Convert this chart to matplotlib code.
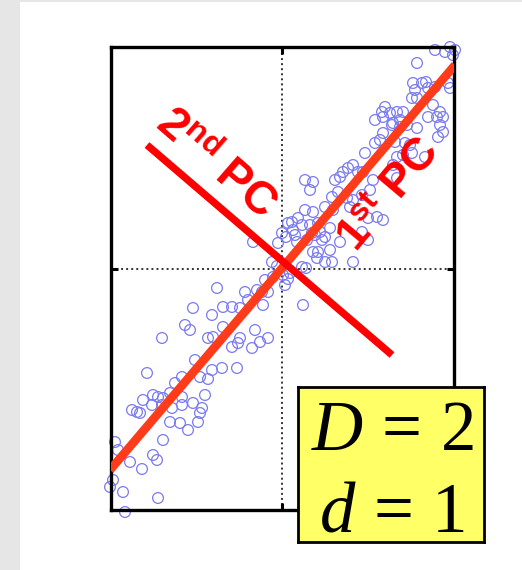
import numpy as np
import matplotlib
matplotlib.use("Agg")
import matplotlib.pyplot as plt
from matplotlib.patches import Rectangle

# fonts: sans bold for the PC labels, Times-like serif for the D/d box
plt.rcParams['mathtext.fontset'] = 'custom'
plt.rcParams['mathtext.rm'] = 'Liberation Serif'
plt.rcParams['mathtext.it'] = 'Liberation Serif:italic'
plt.rcParams['mathtext.bf'] = 'Liberation Sans:bold'

# 2-D sample cloud (x, y)
lower_pts = [(-1.57, -2.43), (-1.24, -2.29), (-1.59, -2.23), (-1.72, -2.18), (-1.69, -2.11),
             (-1.40, -2.00), (-1.52, -1.93), (-1.25, -1.91), (-1.29, -1.86), (-1.64, -1.81),
             (-1.67, -1.73), (-1.19, -1.71), (-0.94, -1.61), (-1.12, -1.53), (-1.02, -1.54),
             (-0.84, -1.53), (-0.82, -1.44), (-1.10, -1.39), (-1.20, -1.36), (-1.30, -1.36),
             (-1.00, -1.36), (-0.89, -1.34), (-0.80, -1.39), (-1.50, -1.41), (-1.45, -1.43),
             (-1.42, -1.44), (-1.39, -1.31), (-1.29, -1.26), (-1.24, -1.28), (-1.19, -1.29),
             (-1.12, -1.24), (-1.00, -1.28), (-0.77, -1.26), (-1.35, -1.04), (-1.07, -1.14),
             (-1.00, -1.08), (-0.82, -1.08), (-0.74, -1.10), (-0.70, -1.01), (-0.60, -0.99),
             (-0.45, -0.99), (-0.87, -0.91), (-0.50, -0.78), (-0.30, -0.79), (-0.42, -0.69),
             (-0.44, -0.74), (-0.27, -0.61), (-0.22, -0.73), (-0.14, -0.69), (-0.59, -0.58),
             (-0.74, -0.69), (-0.69, -0.68), (-0.97, -0.56), (-0.92, -0.61), (-1.20, -0.69),
             (-0.89, -0.39), (-0.70, -0.46), (-0.59, -0.38), (-0.50, -0.38), (-0.42, -0.39),
             (-0.65, -0.19), (-0.37, -0.23), (-0.25, -0.21), (-0.14, -0.23), (-0.34, -0.31),
             (-0.19, -0.36)]

middle_pts = [(0.10, 0.47), (0.16, 0.51), (0.20, 0.44), (0.00, 0.36), (0.04, 0.32),
              (0.11, 0.39), (-0.29, 0.27), (-0.04, 0.26), (0.15, 0.27), (0.25, 0.29),
              (0.30, 0.36), (0.38, 0.37), (0.40, 0.29), (0.48, 0.19), (0.36, 0.17),
              (0.31, 0.17), (0.71, 0.07), (0.35, 0.11), (0.43, 0.07), (0.50, 0.07),
              (-0.10, 0.07), (-0.05, 0.03), (0.20, 0.02), (0.24, 0.01), (-0.17, -0.11),
              (-0.09, -0.08), (0.01, -0.06), (0.06, -0.10), (-0.20, -0.23), (0.21, -0.36),
              (0.08, -0.04), (0.03, -0.16), (0.86, 0.29), (0.58, 0.27), (0.13, 0.34),
              (0.06, 0.46)]

upper_pts = [(0.93, 1.49), (1.01, 1.52), (1.08, 1.56), (1.15, 1.57), (1.10, 1.44),
             (1.18, 1.42), (1.25, 1.44), (1.35, 1.41), (0.83, 1.16), (0.93, 1.26),
             (0.98, 1.29), (1.13, 1.27), (1.23, 1.26), (1.28, 1.24), (1.15, 1.12),
             (1.21, 1.14), (1.30, 1.16), (0.61, 0.97), (0.66, 1.01), (0.71, 1.04),
             (0.76, 0.97), (0.81, 0.97), (1.11, 1.04), (0.53, 0.89), (0.58, 0.92),
             (0.91, 0.89), (1.15, 0.91), (0.23, 0.89), (0.31, 0.87), (0.28, 0.79),
             (0.56, 0.77), (0.50, 0.72), (0.65, 0.71), (0.71, 0.69), (0.80, 0.74),
             (0.88, 0.79), (0.43, 0.62), (0.51, 0.59), (0.68, 0.62), (0.23, 0.59),
             (0.31, 0.57), (0.95, 0.52), (0.86, 0.51), (1.01, 0.49), (0.28, 0.44),
             (0.36, 0.46), (0.48, 0.41), (0.33, 0.34), (0.43, 0.32), (0.80, 0.37),
             (1.43, 1.12)]

corner_pts = [(1.53, 2.19), (1.63, 2.17), (1.68, 2.22), (1.71, 2.14), (1.73, 2.19),
              (1.35, 2.06), (1.31, 1.86), (1.40, 1.86), (1.44, 1.87), (1.33, 1.79),
              (1.46, 1.81), (1.53, 1.82), (1.66, 1.86), (1.68, 1.81), (1.30, 1.71),
              (1.35, 1.71), (1.03, 1.62), (1.00, 1.57), (1.21, 1.57), (1.51, 1.64),
              (1.58, 1.57), (1.46, 1.52), (1.55, 1.52), (1.61, 1.52), (1.11, 1.46),
              (1.18, 1.49), (1.58, 1.44), (1.61, 1.37), (1.01, 1.36), (1.56, 1.32)]

# principal component directions (segment end points)
pc1_x = [-1.72, 1.73]
pc1_y = [-2.01, 2.04]
pc2_x = [-1.35, 1.10]
pc2_y = [1.24, -0.86]

pts = np.array(lower_pts + middle_pts + upper_pts + corner_pts)

fig = plt.figure(figsize=(5.22, 5.70), dpi=100)
fig.patch.set_facecolor('#e6e6e6')
fig.patches.append(Rectangle((20 / 522, 0), 1, 1 - 2 / 570, transform=fig.transFigure,
                             facecolor='white', edgecolor='none', zorder=-10))

ax = fig.add_axes([111 / 522, 1 - 510 / 570, 343 / 522, 463 / 570])
ax.set_xlim(-1.71, 1.72)
ax.set_ylim(-2.41, 2.22)

ax.scatter(pts[:, 0], pts[:, 1], s=60, facecolors='none', edgecolors='#7a7af2',
           linewidths=0.9, clip_on=False, zorder=2)

ax.plot(pc1_x, pc1_y, color='#ff3b1a', linewidth=6.2, solid_capstyle='butt', zorder=3)
ax.plot(pc2_x, pc2_y, color='#ff0000', linewidth=5.3, solid_capstyle='butt', zorder=4)

ax.text(-0.67, 1.05, r'2$^{\mathbf{nd}}$ PC', color='red', fontsize=33,
        fontfamily='Liberation Sans', fontweight='bold', rotation=-41,
        rotation_mode='anchor', ha='center', va='center', zorder=5)
ax.text(1.08, 0.74, r'1$^{\mathbf{st}}$ PC', color='red', fontsize=33,
        fontfamily='Liberation Sans', fontweight='bold', rotation=50,
        rotation_mode='anchor', ha='center', va='center', zorder=5)

# only the centre tick, with dotted cross lines
ax.set_xticks([0])
ax.set_yticks([0])
ax.set_xticklabels([])
ax.set_yticklabels([])
ax.tick_params(direction='in', length=5, width=2.2, top=True, right=True)
ax.grid(True, linestyle=(0, (1, 1.6)), color='#333333', linewidth=1.4)
for s in ax.spines.values():
    s.set_linewidth(2.4)

# dimension box
box = fig.add_axes([298 / 522, 1 - 542 / 570, 186 / 522, 155 / 570])
box.set_facecolor('#ffff66')
box.set_xticks([])
box.set_yticks([])
for s in box.spines.values():
    s.set_linewidth(2.0)
fig.text(392 / 522, 1 - 450 / 570, r'$D\,=\,2$', fontsize=51, ha='center', va='baseline')
fig.text(392 / 522, 1 - 531 / 570, r'$d\,=\,1$', fontsize=51, ha='center', va='baseline')

fig.savefig('out.png', dpi=100, facecolor=fig.get_facecolor())
